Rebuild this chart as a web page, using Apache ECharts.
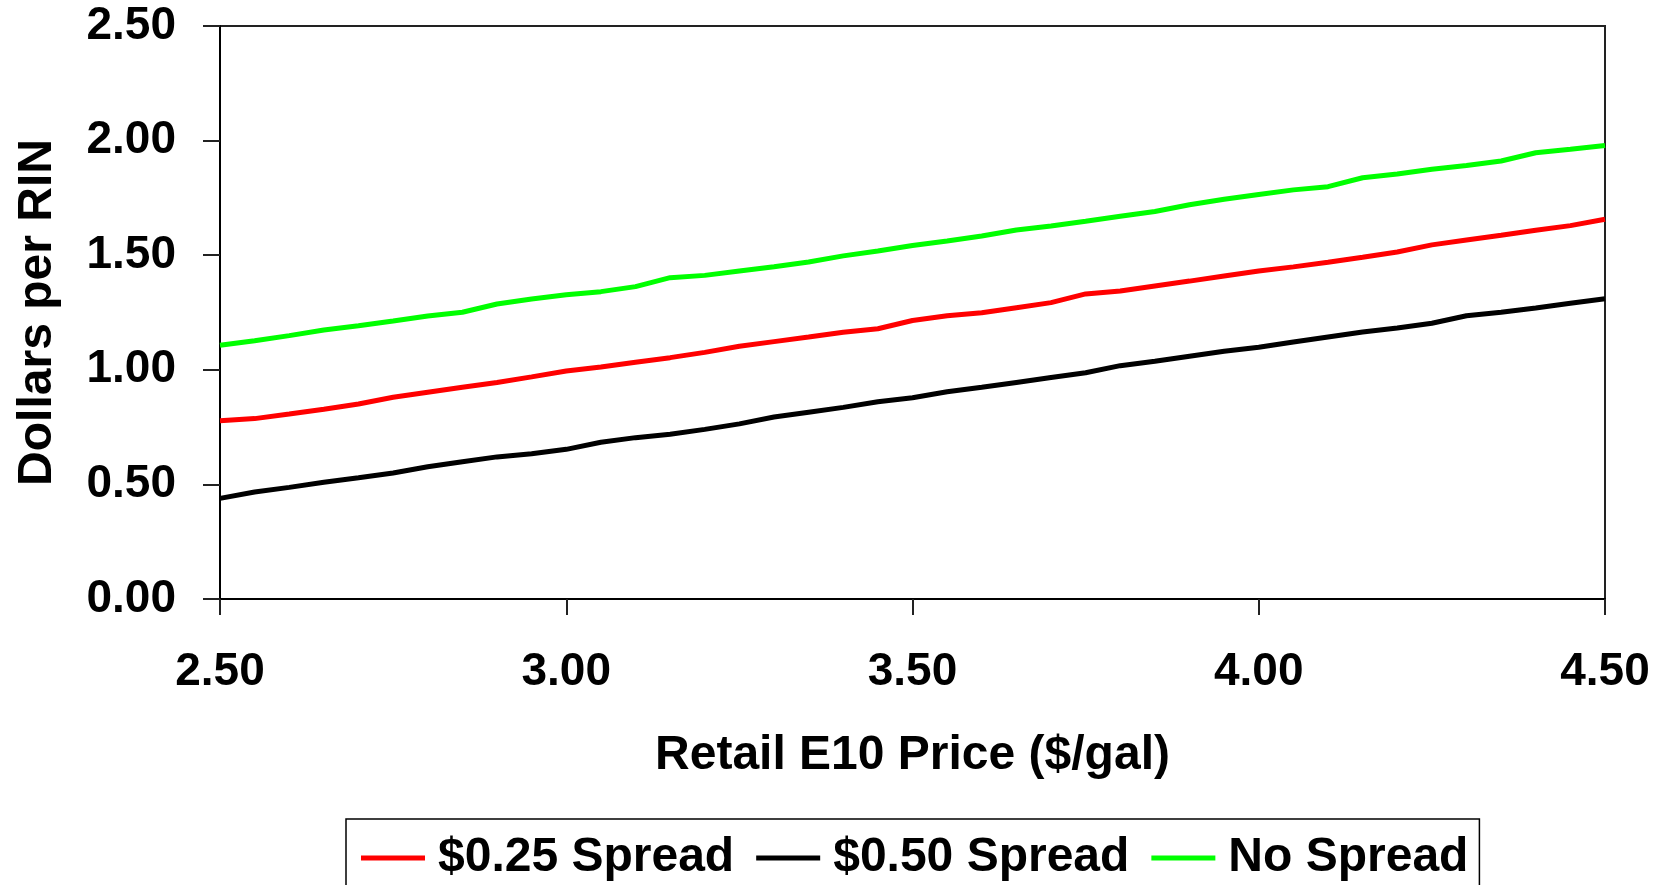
<!DOCTYPE html>
<html>
<head>
<meta charset="utf-8">
<script src="https://cdn.jsdelivr.net/npm/echarts@6/dist/echarts.min.js"></script>
<style>
  html, body { margin: 0; padding: 0; background: #fff; }
  #chart { width: 1665px; height: 885px; }
</style>
</head>
<body>
<div id="chart"></div>
<script>
// Retail E10 price ($/gal)
const prices = [2.50, 2.55, 2.60, 2.65, 2.70, 2.75, 2.80, 2.85, 2.90, 2.95, 3.00,
                3.05, 3.10, 3.15, 3.20, 3.25, 3.30, 3.35, 3.40, 3.45, 3.50,
                3.55, 3.60, 3.65, 3.70, 3.75, 3.80, 3.85, 3.90, 3.95, 4.00,
                4.05, 4.10, 4.15, 4.20, 4.25, 4.30, 4.35, 4.40, 4.45, 4.50];

const seriesNames = ['$0.25 Spread', '$0.50 Spread', 'No Spread'];

const spread025 = [0.778, 0.787, 0.807, 0.828, 0.851, 0.880, 0.902, 0.924, 0.945, 0.969, 0.995,
                   1.012, 1.033, 1.053, 1.076, 1.103, 1.123, 1.143, 1.164, 1.179, 1.215,
                   1.236, 1.249, 1.271, 1.293, 1.331, 1.344, 1.366, 1.387, 1.409, 1.431,
                   1.449, 1.469, 1.491, 1.514, 1.545, 1.566, 1.587, 1.609, 1.629, 1.657];

const spread050 = [0.439, 0.467, 0.487, 0.509, 0.529, 0.550, 0.577, 0.599, 0.620, 0.634, 0.653,
                   0.684, 0.704, 0.719, 0.740, 0.764, 0.794, 0.815, 0.836, 0.861, 0.878,
                   0.904, 0.924, 0.945, 0.966, 0.987, 1.018, 1.037, 1.059, 1.081, 1.098,
                   1.121, 1.143, 1.165, 1.182, 1.203, 1.236, 1.251, 1.270, 1.290, 1.310];

const noSpread = [1.107, 1.127, 1.149, 1.174, 1.192, 1.213, 1.235, 1.251, 1.287, 1.309, 1.327,
                  1.341, 1.363, 1.402, 1.412, 1.431, 1.450, 1.470, 1.497, 1.518, 1.542,
                  1.562, 1.584, 1.610, 1.627, 1.648, 1.670, 1.691, 1.720, 1.744, 1.765,
                  1.785, 1.799, 1.838, 1.854, 1.875, 1.891, 1.911, 1.947, 1.962, 1.979];

const xTicks = [2.50, 3.00, 3.50, 4.00, 4.50];
const yTicks = [0.00, 0.50, 1.00, 1.50, 2.00, 2.50];

const FONT = '"Liberation Sans", Arial, Helvetica, sans-serif';
const colors = ['#FF0000', '#000000', '#00FF00'];
const values = [spread025, spread050, noSpread];

function pairs(ys) { return prices.map((p, i) => [p, ys[i]]); }

const chart = echarts.init(document.getElementById('chart'), null, { renderer: 'canvas' });
chart.setOption({
  animation: false,
  backgroundColor: '#ffffff',
  textStyle: { fontFamily: FONT },
  grid: {
    left: 220, right: 60, top: 26, bottom: 286,
    show: true, borderColor: '#222', borderWidth: 2, backgroundColor: 'transparent'
  },
  legend: {
    data: seriesNames,
    left: 346, top: 819,
    orient: 'horizontal',
    icon: 'rect',
    itemWidth: 64, itemHeight: 5,
    itemGap: 22,
    padding: [15, 11, 30, 15],
    borderColor: '#000', borderWidth: 1.5,
    textStyle: {
      fontFamily: FONT, fontWeight: 'bold', fontSize: 48, color: '#000',
      padding: [0, 0, 0, 8]
    }
  },
  xAxis: {
    type: 'value',
    min: xTicks[0], max: xTicks[xTicks.length - 1], interval: 0.5,
    name: 'Retail E10 Price ($/gal)',
    nameLocation: 'middle', nameGap: 133,
    nameTextStyle: { fontFamily: FONT, fontWeight: 'bold', fontSize: 48, color: '#000' },
    axisLine: { show: true, onZero: false, lineStyle: { color: '#000', width: 2 } },
    axisTick: { show: true, inside: false, length: 16, lineStyle: { color: '#222', width: 2 } },
    axisLabel: {
      margin: 50, fontFamily: FONT, fontWeight: 'bold', fontSize: 46, color: '#000',
      formatter: v => v.toFixed(2)
    },
    splitLine: { show: false }
  },
  yAxis: {
    type: 'value',
    min: yTicks[0], max: yTicks[yTicks.length - 1], interval: 0.5,
    name: 'Dollars per RIN',
    nameLocation: 'middle', nameGap: 158,
    nameTextStyle: { fontFamily: FONT, fontWeight: 'bold', fontSize: 48, color: '#000' },
    axisLine: { show: true, lineStyle: { color: '#000', width: 2 } },
    axisTick: { show: true, inside: false, length: 17, lineStyle: { color: '#222', width: 2 } },
    axisLabel: {
      margin: 44, fontFamily: FONT, fontWeight: 'bold', fontSize: 46, color: '#000',
      formatter: v => v.toFixed(2)
    },
    splitLine: { show: false }
  },
  series: seriesNames.map((n, i) => ({
    name: n,
    type: 'line',
    data: pairs(values[i]),
    showSymbol: false,
    symbol: 'none',
    smooth: false,
    color: colors[i],
    lineStyle: { color: colors[i], width: 5 },
    z: 3 - i
  }))
});
</script>
</body>
</html>
